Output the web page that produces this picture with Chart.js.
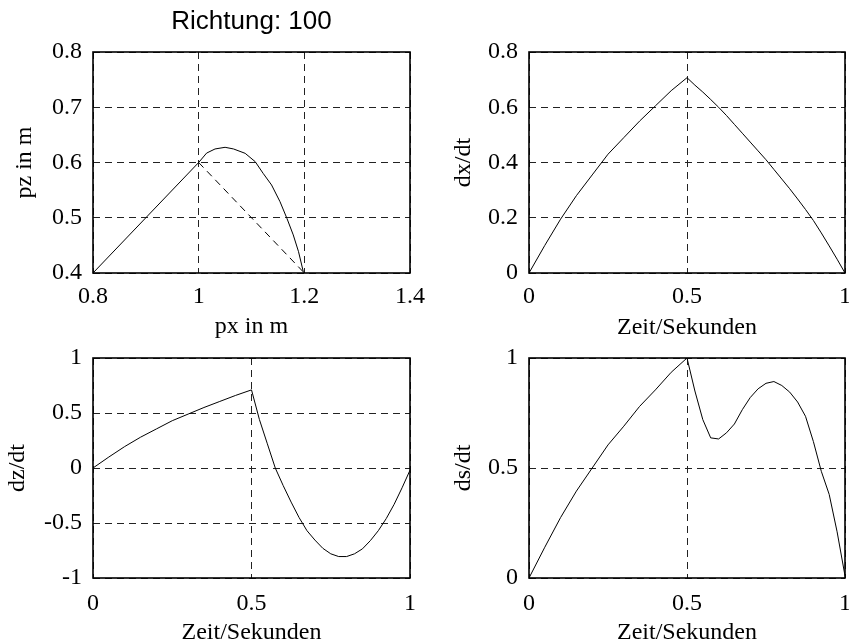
<!DOCTYPE html>
<html>
<head>
<meta charset="utf-8">
<script src="https://cdn.jsdelivr.net/npm/chart.js@4.4.0/dist/chart.umd.min.js"></script>
<style>
    html, body { margin: 0; padding: 0; background: #fff; overflow: hidden; }
    body { width: 849px; height: 643px; position: relative; }
    canvas { position: absolute; }
</style>
</head>
<body>
<canvas id="pathChart" width="430" height="345" style="left:0;top:0"></canvas>
<canvas id="dxChart" width="419" height="345" style="left:430px;top:0"></canvas>
<canvas id="dzChart" width="430" height="315" style="left:0;top:345px"></canvas>
<canvas id="dsChart" width="419" height="315" style="left:430px;top:345px"></canvas>
<script>
// Trajectory (top left)
const pathPx = [0.8, 0.9, 1.0, 1.015, 1.031, 1.05, 1.066, 1.088, 1.107, 1.122, 1.138, 1.154, 1.167, 1.179, 1.189, 1.195, 1.198, 1.2];
const pathPz = [0.4, 0.5, 0.6, 0.617, 0.6245, 0.6275, 0.6245, 0.6166, 0.6015, 0.5804, 0.5593, 0.529, 0.499, 0.469, 0.4386, 0.4145, 0.4024, 0.4];
const refPx = [1.0, 1.2];
const refPz = [0.6, 0.4];

// Velocities over time
const time = [0, 0.05, 0.1, 0.15, 0.2, 0.25, 0.3, 0.35, 0.4, 0.45, 0.5,
    0.525, 0.55, 0.575, 0.6, 0.625, 0.65, 0.675, 0.7, 0.725, 0.75,
    0.775, 0.8, 0.825, 0.85, 0.875, 0.9, 0.925, 0.95, 0.975, 1];
const dxdt = [0, 0.10, 0.195, 0.28, 0.355, 0.43, 0.49, 0.55, 0.605, 0.66, 0.707,
    0.68, 0.655, 0.628, 0.6, 0.57, 0.538, 0.506, 0.474, 0.442, 0.41,
    0.375, 0.34, 0.305, 0.268, 0.23, 0.19, 0.145, 0.098, 0.05, 0];
const dzdt = [0, 0.10, 0.195, 0.28, 0.355, 0.43, 0.49, 0.55, 0.605, 0.66, 0.71,
    0.44, 0.22, 0.0, -0.16, -0.31, -0.45, -0.57, -0.655, -0.73, -0.78,
    -0.805, -0.805, -0.78, -0.735, -0.66, -0.57, -0.46, -0.33, -0.18, -0.02];
const dsdt = [0, 0.14, 0.275, 0.395, 0.50, 0.605, 0.69, 0.78, 0.855, 0.935, 1.0,
    0.85, 0.72, 0.637, 0.632, 0.66, 0.70, 0.765, 0.82, 0.86, 0.885,
    0.893, 0.875, 0.845, 0.80, 0.735, 0.62, 0.485, 0.38, 0.21, 0.01];

// Tick values
const pxTicks = [0.8, 1, 1.2, 1.4];
const pzTicks = [0.4, 0.5, 0.6, 0.7, 0.8];
const timeTicks = [0, 0.5, 1];
const dxTicks = [0, 0.2, 0.4, 0.6, 0.8];
const dzTicks = [-1, -0.5, 0, 0.5, 1];
const dsTicks = [0, 0.5, 1];

const serif = { family: "'Liberation Serif', 'Times New Roman', serif", size: 24 };
const gridDash = [7, 5];

// Draws the closed box around the plot area
const framePlugin = {
    id: 'frame',
    afterDraw(chart) {
        const { ctx, chartArea: a } = chart;
        ctx.save();
        ctx.strokeStyle = '#000';
        ctx.lineWidth = 1.6;
        ctx.strokeRect(a.left, a.top, a.right - a.left, a.bottom - a.top);
        ctx.restore();
    }
};

function toPoints(xs, ys) {
    return xs.map((x, i) => ({ x: x, y: ys[i] }));
}

function lineSet(xs, ys, dash) {
    return {
        data: toPoints(xs, ys),
        borderColor: '#000',
        borderWidth: 1,
        borderDash: dash || [],
        pointRadius: 0,
        showLine: true,
        tension: 0
    };
}

function xAxis(min, max, tickValues, title, height, tickPad, titlePad) {
    return {
        type: 'linear',
        min: min,
        max: max,
        afterBuildTicks: s => { s.ticks = tickValues.map(v => ({ value: v })); },
        afterFit: s => { s.height = height; s.paddingLeft = 0; s.paddingRight = 0; },
        grid: { color: '#222', lineWidth: 1, drawTicks: false },
        border: { display: false, dash: gridDash },
        ticks: { padding: tickPad, color: '#000', font: serif, maxRotation: 0, autoSkip: false, callback: v => String(v) },
        title: { display: true, text: title, color: '#000', font: serif, padding: { top: 0, bottom: titlePad } }
    };
}

function yAxis(min, max, tickValues, title, width, titlePad) {
    return {
        type: 'linear',
        min: min,
        max: max,
        afterBuildTicks: s => { s.ticks = tickValues.map(v => ({ value: v })); },
        afterFit: s => { s.width = width; s.paddingTop = 0; s.paddingBottom = 0; },
        grid: { color: '#222', lineWidth: 1, drawTicks: false },
        border: { display: false, dash: gridDash },
        ticks: { padding: 11, color: '#000', font: serif, autoSkip: false, callback: v => String(v) },
        title: { display: true, text: title, color: '#000', font: serif, padding: { top: titlePad, bottom: 0 } }
    };
}

function makeChart(id, datasets, scales, padding, title) {
    return new Chart(document.getElementById(id), {
        type: 'scatter',
        data: { datasets: datasets },
        options: {
            responsive: false,
            animation: false,
            events: [],
            layout: { padding: padding },
            plugins: {
                legend: { display: false },
                tooltip: { enabled: false },
                title: title || { display: false }
            },
            scales: scales
        },
        plugins: [framePlugin]
    });
}

// Top left: pz over px
makeChart('pathChart',
    [lineSet(pathPx, pathPz), lineSet(refPx, refPz, gridDash)],
    {
        x: xAxis(0.8, 1.4, pxTicks, 'px in m', 72, 9, 3.6),
        y: yAxis(0.4, 0.8, pzTicks, 'pz in m', 93, 10.8)
    },
    { top: 0, right: 20, left: 0, bottom: 0 },
    {
        display: true,
        text: 'Richtung: 100',
        fullSize: false,
        color: '#000',
        font: { family: "'Liberation Sans', Arial, sans-serif", size: 26, weight: 'normal' },
        padding: { top: 6, bottom: 14.8 }
    }
);

// Top right: dx/dt
makeChart('dxChart',
    [lineSet(time, dxdt)],
    {
        x: xAxis(0, 1, timeTicks, 'Zeit/Sekunden', 72, 9, 3),
        y: yAxis(0, 0.8, dxTicks, 'dx/dt', 99, 19.2)
    },
    { top: 52, right: 4, left: 0, bottom: 0 }
);

// Bottom left: dz/dt
makeChart('dzChart',
    [lineSet(time, dzdt)],
    {
        x: xAxis(0, 1, timeTicks, 'Zeit/Sekunden', 82, 11.6, 12.6),
        y: yAxis(-1, 1, dzTicks, 'dz/dt', 93, 3.6)
    },
    { top: 13, right: 20, left: 0, bottom: 0 }
);

// Bottom right: ds/dt
makeChart('dsChart',
    [lineSet(time, dsdt)],
    {
        x: xAxis(0, 1, timeTicks, 'Zeit/Sekunden', 82, 11.6, 12.6),
        y: yAxis(0, 1, dsTicks, 'ds/dt', 99, 19)
    },
    { top: 13, right: 4, left: 0, bottom: 0 }
);
</script>
</body>
</html>
